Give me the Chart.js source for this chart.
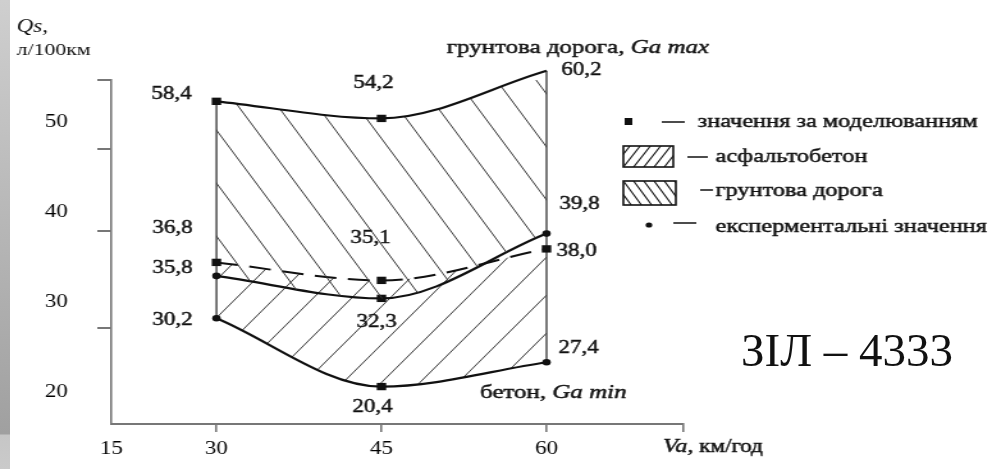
<!DOCTYPE html>
<html>
<head>
<meta charset="utf-8">
<script src="https://cdn.jsdelivr.net/npm/chart.js@4.4.1/dist/chart.umd.min.js"></script>
<style>
  html, body { margin: 0; padding: 0; background: #fff; width: 1000px; height: 469px; overflow: hidden; }
  #wrap { position: absolute; left: 0; top: 0; width: 781px; height: 469px; transform: scaleX(1.28); transform-origin: 0 0; }
  #strip { position: absolute; left: 0; top: 0; width: 10px; height: 469px;
           background: linear-gradient(#cfcfcf 0px, #a0a0a0 434px, #c6c6c6 435px, #cacaca 469px); }
  #model { position: absolute; left: 741px; top: 322px; font: 47px "Liberation Serif", serif; color: #111; white-space: nowrap; line-height: 56px; }
</style>
</head>
<body>
<div id="wrap"><canvas id="chart" width="781" height="469"></canvas></div>
<div id="strip"></div>
<div id="model">ЗІЛ – 4333</div>
<script>
// швидкість, км/год
const speeds = [30, 45, 60];
// положення точок на шкалі Qs (як на рисунку)
const gruntMax = [52.3, 50.4, 55.7];   // грунтова дорога, Ga max
const modelMid = [34.4, 32.4, 35.9];   // значення за моделюванням (штрихова)
const expMid = [32.9, 30.4, 37.6];     // експериментальні значення
const betonMin = [28.2, 20.6, 23.3];   // бетон, Ga min
// підписи біля точок
const gruntMaxLabels = ['58,4', '54,2', '60,2'];
const modelMidLabels = ['36,8', '35,1', '38,0'];
const expMidLabels = ['35,8', '32,3', '39,8'];
const betonMinLabels = ['30,2', '20,4', '27,4'];
// осі
const yTickValues = [20, 30, 40, 50];
const yMarkValues = [27.1, 37.9, 47.0];
const xTickLabels = ['15', '30', '45', '60'];

const S = 1.28;               // horizontal stretch of the scanned figure
const X_MIN = 20.45, X_MAX = 72.45;
const Y_MIN = 16.44, Y_MAX = 54.67;
const SERIF = '"Liberation Serif", "Times New Roman", serif';
const INK = '#111';

var canvas = document.getElementById('chart');
var ctx = canvas.getContext('2d');

function hatch(w, slope, down) {
  const h = Math.round(w * slope);
  const c = document.createElement('canvas');
  c.width = w; c.height = h;
  const g = c.getContext('2d');
  g.strokeStyle = '#383838';
  g.lineWidth = 1;
  g.beginPath();
  [-w, 0, w].forEach(dx => {
    if (down) { g.moveTo(dx, 0); g.lineTo(dx + w, h); }
    else { g.moveTo(dx, h); g.lineTo(dx + w, 0); }
  });
  g.stroke();
  return ctx.createPattern(c, 'repeat');
}
const groundPattern = hatch(31, 1.72, true);   // грунтова дорога  \\\
const asphaltPattern = hatch(30, 1.28, false); // асфальтобетон   ///

const pts = ys => speeds.map((x, i) => ({ x: x, y: ys[i] }));

// offsets of the value labels, screen px [dx, dy]
const labelSets = [gruntMaxLabels, modelMidLabels, expMidLabels, betonMinLabels];
const labelOffsets = [
  [[-45, -7], [-8, -35], [35, 0]],
  [[-44, -34], [-11, -42], [30, 2]],
  [[-44, -8], [-5, 24], [33, -29]],
  [[-44, 2], [-9, 21], [32, -14]]
];

// slightly heavier text, like the scan
function put(c, s, x, y) {
  c.strokeText(s, x, y);
  c.fillText(s, x, y);
  return c.measureText(s).width;
}

function text2(c, x, y, a, b, size) {
  c.font = size + 'px ' + SERIF;
  const w = put(c, a, x, y);
  c.font = 'italic ' + size + 'px ' + SERIF;
  put(c, b, x + w, y);
}

const decor = {
  id: 'decor',
  afterDatasetsDraw(chart) {
    const c = chart.ctx;
    c.save();
    c.fillStyle = INK;
    c.strokeStyle = INK;
    c.lineWidth = 0.45;
    c.textAlign = 'center';
    c.textBaseline = 'middle';
    c.font = '18px ' + SERIF;
    labelSets.forEach((labels, d) => {
      const meta = chart.getDatasetMeta(d);
      meta.data.forEach((el, i) => {
        const off = labelOffsets[d][i];
        put(c, labels[i], el.x + off[0] / S, el.y + off[1]);
      });
    });
    c.restore();
  },
  afterDraw(chart) {
    const c = chart.ctx;
    const y = chart.scales.y;
    const left = chart.chartArea.left;
    c.save();
    // y axis marks
    c.strokeStyle = '#777';
    c.lineWidth = 2;
    yMarkValues.concat([Y_MAX]).forEach(v => {
      const py = Math.round(y.getPixelForValue(v));
      c.beginPath(); c.moveTo(left - 11, py); c.lineTo(left, py); c.stroke();
    });

    c.fillStyle = INK;
    c.strokeStyle = INK;
    c.lineWidth = 0.45;
    c.textAlign = 'left';
    c.textBaseline = 'middle';
    c.font = 'italic 18px ' + SERIF;
    c.fillText('Qs,', 13, 27);
    c.font = '17px ' + SERIF;
    c.fillText('л/100км', 13, 51);
    text2(c, 349, 48, 'грунтова дорога, ', 'Ga max', 19.5);
    text2(c, 375, 393, 'бетон, ', 'Ga min', 19.5);
    c.font = 'italic 19px ' + SERIF;
    const vw = put(c, 'Va,', 518, 447);
    c.font = '18px ' + SERIF;
    put(c, ' км/год', 518 + vw, 447);

    // legend
    c.lineWidth = 1.5;
    c.fillRect(488, 118, 6, 7);
    c.beginPath(); c.moveTo(517, 122); c.lineTo(535, 122); c.stroke();

    const box = (x0, y0, w, h, down) => {
      c.save();
      c.beginPath(); c.rect(x0, y0, w, h); c.clip();
      c.lineWidth = 1.1;
      c.beginPath();
      for (let k = -3; k < 8; k++) {
        const bx = x0 + k * 8;
        if (down) { c.moveTo(bx, y0); c.lineTo(bx + h / 1.7, y0 + h); }
        else { c.moveTo(bx, y0 + h); c.lineTo(bx + h / 1.6, y0); }
      }
      c.stroke();
      c.restore();
      c.lineWidth = 1.6;
      c.strokeRect(x0, y0, w, h);
    };
    box(487, 146, 39, 21, false);
    box(487, 181, 41, 24, true);
    c.lineWidth = 1.5;
    c.beginPath(); c.moveTo(537, 157); c.lineTo(553, 157); c.stroke();
    c.beginPath(); c.moveTo(547, 190); c.lineTo(557, 190); c.stroke();
    c.beginPath(); c.arc(507, 225, 2.6, 0, Math.PI * 2); c.fill();
    c.beginPath(); c.moveTo(526, 223); c.lineTo(544, 223); c.stroke();

    c.lineWidth = 0.45;
    c.font = '19px ' + SERIF;
    put(c, 'значення за моделюванням', 545, 122);
    put(c, 'асфальтобетон', 559, 157);
    put(c, 'грунтова дорога', 559, 191);
    put(c, 'експерментальні значення', 559, 227);
    c.restore();
  }
};

const common = {
  borderColor: INK,
  borderWidth: 2.2,
  cubicInterpolationMode: 'monotone',
  pointBackgroundColor: INK,
  pointBorderColor: INK,
  pointBorderWidth: 0,
  clip: false
};

var myChart = new Chart(ctx, {
  type: 'line',
  data: {
    datasets: [
      Object.assign({}, common, {
        label: 'грунтова дорога, Ga max',
        data: pts(gruntMax),
        pointStyle: 'rect',
        pointRadius: 5.2,
        fill: 2,
        backgroundColor: groundPattern
      }),
      Object.assign({}, common, {
        label: 'значення за моделюванням',
        data: pts(modelMid),
        borderWidth: 2,
        borderDash: [17, 9],
        pointStyle: 'rect',
        pointRadius: 5.2,
        fill: false
      }),
      Object.assign({}, common, {
        label: 'експериментальні значення',
        data: pts(expMid),
        pointStyle: ['circle', 'rect', 'circle'],
        pointRadius: [3.3, 5.2, 3.3],
        fill: false
      }),
      Object.assign({}, common, {
        label: 'бетон, Ga min',
        data: pts(betonMin),
        pointStyle: ['circle', 'rect', 'circle'],
        pointRadius: [3.3, 5.2, 3.3],
        fill: 1,
        backgroundColor: asphaltPattern
      }),
      {
        data: [{ x: speeds[0], y: gruntMax[0] }, { x: speeds[0], y: betonMin[0] }],
        borderColor: '#333', borderWidth: 1.3, pointRadius: 0, fill: false, clip: false
      },
      {
        data: [{ x: speeds[2], y: gruntMax[2] }, { x: speeds[2], y: betonMin[2] }],
        borderColor: '#333', borderWidth: 1.3, pointRadius: 0, fill: false, clip: false
      }
    ]
  },
  options: {
    responsive: false,
    animation: false,
    events: [],
    layout: { padding: { top: 80, right: 781 - 534, left: 0, bottom: 0 } },
    plugins: {
      legend: { display: false },
      tooltip: { enabled: false }
    },
    scales: {
      x: {
        type: 'linear',
        min: X_MIN,
        max: X_MAX,
        afterFit: s => { s.height = 45; },
        afterBuildTicks: s => { s.ticks = [X_MIN].concat(speeds, [X_MAX]).map(v => ({ value: v })); },
        ticks: {
          autoSkip: false,
          maxRotation: 0,
          padding: 6,
          color: '#000',
          font: { family: SERIF, size: 18 },
          callback: (v, i) => xTickLabels[i] || ''
        },
        grid: {
          drawOnChartArea: false,
          tickLength: 8,
          lineWidth: 1.6,
          color: c => c.index === 0 ? 'rgba(0,0,0,0)' : '#777'
        },
        border: { color: '#777', width: 2 }
      },
      y: {
        type: 'linear',
        min: Y_MIN,
        max: Y_MAX,
        afterFit: s => { s.width = 87; },
        afterBuildTicks: s => { s.ticks = yTickValues.map(v => ({ value: v })); },
        ticks: {
          padding: 34,
          color: '#000',
          font: { family: SERIF, size: 18 }
        },
        grid: { display: false, drawTicks: false },
        border: { color: '#777', width: 1.6 }
      }
    }
  },
  plugins: [decor]
});
</script>
</body>
</html>
